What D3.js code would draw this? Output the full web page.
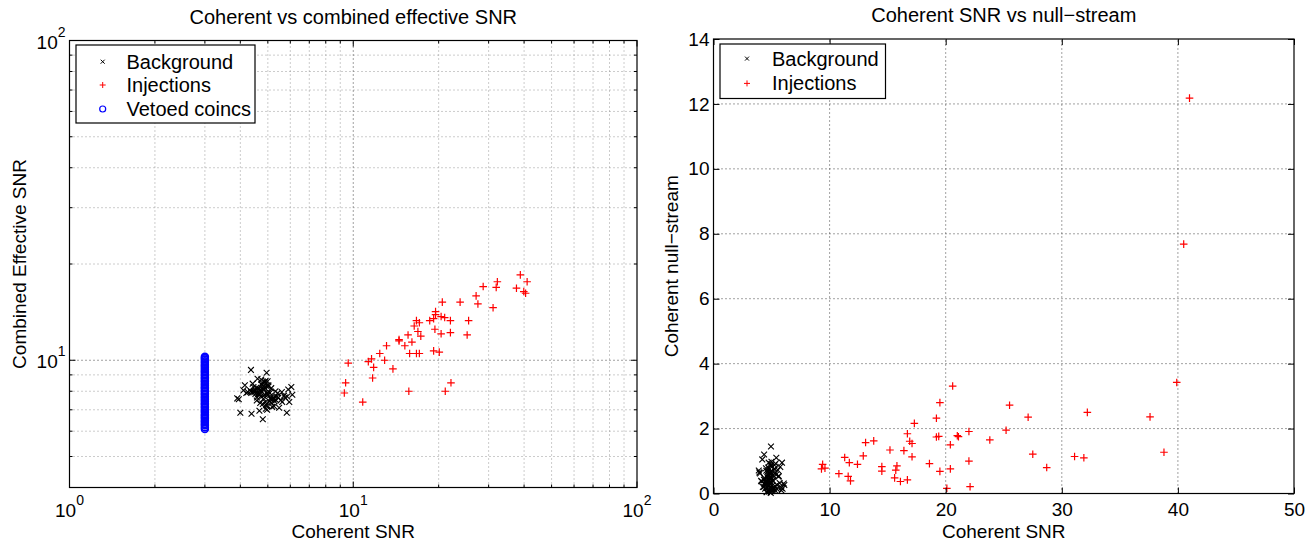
<!DOCTYPE html>
<meta charset="utf-8">
<style>
  body { margin: 0; background: #fff; }
  svg { font-family: "Liberation Sans", Arial, Helvetica, sans-serif; background: #fff; }
  .grid-major line { stroke: #444; stroke-width: 1; stroke-dasharray: 1,3; }
  .grid-minor line { stroke: #999; stroke-width: 1; stroke-dasharray: 1,3; }
  .ticks line { stroke: #000; stroke-width: 1; }
  .frame { fill: none; stroke: #000; stroke-width: 1.2; }
  .tick-label { font-size: 19px; fill: #000; }
  .axis-label { font-size: 19px; fill: #000; }
  .title { font-size: 20px; fill: #000; }
  .legend text { font-size: 20px; fill: #000; }
</style>
<body>
  <svg width="1316" height="541"></svg>
</body>

<script src="https://cdn.jsdelivr.net/npm/d3@7"></script>
<script>
  // ---- data ----
  // injections: coherent SNR, combined effective SNR, coherent null-stream
  var injCoh  = [41.0, 40.5, 39.9, 38.8, 37.6, 32.2, 31.9, 31.1, 28.7, 27.5,
                 27.1, 25.5, 25.2, 23.8, 22.0, 22.0, 22.1, 21.1, 21.0, 20.6,
                 20.4, 20.4, 20.1, 19.5, 19.5, 19.4, 19.2, 19.2, 18.6, 17.3,
                 17.1, 17.1, 16.9, 16.7, 16.7, 16.4, 16.1, 15.8, 15.7, 15.6,
                 15.2, 14.5, 14.5, 13.8, 13.1, 12.9, 12.4, 11.7, 11.8, 11.6,
                 11.3, 10.8, 9.6, 9.4, 9.3];
  var injEff  = [17.6, 16.2, 16.4, 18.5, 16.8, 17.6, 16.9, 14.6, 17.0, 15.0,
                 15.9, 13.3, 12.0, 15.2, 13.3, 12.2, 8.5, 8.0, 13.6, 15.2,
                 12.1, 13.7, 10.6, 14.2, 13.9, 12.5, 10.7, 13.5, 13.3, 11.9,
                 13.1, 10.5, 12.3, 13.3, 10.5, 12.8, 11.4, 10.5, 8.0, 12.0,
                 11.1, 11.6, 11.5, 9.4, 11.1, 10.0, 10.5, 8.8, 9.5, 10.1,
                 9.9, 7.4, 9.8, 8.5, 7.9];
  var injNull = [12.18, 7.68, 3.42, 1.27, 2.36, 2.50, 1.10, 1.14, 0.80, 1.21,
                 2.35, 2.72, 1.95, 1.65, 1.91, 1.00, 0.21, 1.75, 1.78, 3.31,
                 1.50, 0.76, 0.16, 2.80, 0.68, 1.76, 2.32, 1.74, 0.92, 2.16,
                 1.54, 1.13, 1.61, 1.84, 0.42, 1.32, 0.37, 0.85, 0.72, 0.48,
                 1.34, 0.83, 0.69, 1.62, 1.57, 1.16, 0.90, 0.95, 0.39, 0.53,
                 1.11, 0.61, 0.78, 0.90, 0.76];

  // background: coherent SNR, combined effective SNR, coherent null-stream
  var bgCoh  = [4.62, 4.85, 5.10, 4.40, 4.95, 5.30, 4.70, 5.05, 4.55, 4.88,
                5.20, 4.35, 4.75, 5.45, 4.98, 4.60, 5.15, 4.82, 4.45, 5.60,
                4.90, 5.02, 4.68, 5.25, 4.78, 4.50, 5.38, 4.93, 4.72, 5.08,
                4.25, 5.55, 4.86, 4.64, 5.18, 4.99, 4.58, 5.32, 4.80, 4.42,
                5.70, 4.96, 4.66, 5.12, 4.74, 4.52, 5.28, 4.84, 4.92, 5.05,
                3.95, 4.10, 5.85, 6.05, 4.36, 5.62, 4.20, 5.48, 4.15, 5.75,
                4.88, 4.70, 5.00, 4.60, 5.22, 4.81, 4.48, 5.35, 4.76, 4.97,
                4.95, 4.36, 4.00, 4.38, 5.83, 4.80, 5.90, 6.10, 3.90, 5.95,
                4.73, 5.14, 4.57, 4.91, 5.41, 4.67, 5.03, 4.83, 4.46, 5.26];
  var bgEff  = [7.85, 8.10, 7.60, 7.95, 8.30, 7.70, 8.05, 7.45, 8.20, 7.80,
                7.55, 8.00, 8.40, 7.65, 7.90, 8.15, 7.35, 7.75, 8.25, 7.95,
                7.40, 8.35, 7.85, 7.60, 8.50, 8.05, 7.70, 7.25, 8.10, 7.90,
                7.95, 7.50, 8.20, 7.80, 7.15, 8.60, 7.65, 8.00, 7.30, 8.45,
                7.75, 7.20, 8.15, 7.55, 8.70, 7.85, 7.45, 8.30, 7.05, 7.95,
                7.55, 8.05, 7.70, 8.25, 8.00, 7.40, 7.90, 7.10, 8.35, 7.65,
                8.55, 7.35, 7.80, 8.75, 7.60, 8.10, 7.95, 7.50, 8.40, 7.00,
                9.14, 9.33, 6.85, 6.80, 6.85, 6.54, 8.10, 7.80, 7.60, 7.40,
                7.72, 8.18, 7.48, 8.62, 7.88, 6.95, 8.28, 7.58, 8.02, 7.18];
  var bgNull = [0.35, 0.62, 0.12, 0.48, 0.85, 0.22, 0.55, 0.08, 0.70, 0.30,
                0.18, 0.42, 0.95, 0.27, 0.60, 0.05, 0.38, 0.75, 0.15, 0.52,
                0.66, 0.10, 0.45, 0.88, 0.25, 0.33, 0.58, 0.02, 0.80, 0.40,
                0.20, 0.72, 0.36, 0.50, 0.14, 0.98, 0.28, 0.64, 0.06, 0.44,
                0.32, 0.90, 0.17, 0.56, 0.26, 0.78, 0.11, 0.47, 0.68, 0.24,
                0.65, 0.39, 0.09, 0.31, 0.21, 0.54, 1.05, 0.13, 0.37, 0.82,
                0.29, 0.60, 0.46, 0.19, 0.74, 0.07, 0.34, 0.92, 0.23, 0.50,
                1.45, 1.20, 0.62, 0.30, 0.18, 0.41, 0.95, 0.26, 0.71, 0.15,
                0.43, 0.57, 0.04, 0.36, 1.10, 0.67, 0.16, 0.49, 0.27, 0.76];

  // vetoed coincs all sit at coherent SNR = 3
  var vetoCoh = 3;
  var vetoEff = [6.10, 6.17, 6.26, 6.32, 6.41, 6.47, 6.56, 6.63, 6.71, 6.77,
                 6.86, 6.94, 7.01, 7.11, 7.18, 7.28, 7.34, 7.45, 7.52, 7.62,
                 7.69, 7.80, 7.87, 7.98, 8.05, 8.17, 8.24, 8.36, 8.44, 8.56,
                 8.63, 8.75, 8.84, 8.96, 9.04, 9.17, 9.25, 9.38, 9.47, 9.60,
                 9.69, 9.83, 9.92, 10.06, 10.16, 10.25];

  var titles = ["Coherent vs combined effective SNR", "Coherent SNR vs null\u2212stream"];
  var xLabels = ["Coherent SNR", "Coherent SNR"];
  var yLabels = ["Combined Effective SNR", "Coherent null\u2212stream"];
  var logMajor = [1, 10, 100];
  var logMinorX = [2, 3, 4, 5, 6, 7, 8, 9, 20, 30, 40, 50, 60, 70, 80, 90];
  var logMinorY = [5, 6, 7, 8, 9, 20, 30, 40, 50, 60, 70, 80, 90];
  var linTicksX = [0, 10, 20, 30, 40, 50];
  var linTicksY = [0, 2, 4, 6, 8, 10, 12, 14];

  var svg = d3.select("svg");

  function xMark(s) { return "M" + (-s) + "," + (-s) + "L" + s + "," + s + "M" + (-s) + "," + s + "L" + s + "," + (-s); }
  function plusMark(s) { return "M" + (-s) + ",0L" + s + ",0M0," + (-s) + "L0," + s; }

  // ================= left panel (log-log) =================
  var xL = d3.scaleLog().domain([1, 100]).range([69.5, 637]);
  var yL = d3.scaleLog().domain([4, 100]).range([487.5, 40.5]);
  var left = svg.append("g");

  left.append("g").attr("class", "grid-minor").selectAll("line")
    .data(logMinorX).enter().append("line")
    .attr("x1", d => xL(d)).attr("x2", d => xL(d))
    .attr("y1", yL.range()[0]).attr("y2", yL.range()[1]);
  left.append("g").attr("class", "grid-minor").selectAll("line")
    .data(logMinorY).enter().append("line")
    .attr("y1", d => yL(d)).attr("y2", d => yL(d))
    .attr("x1", xL.range()[0]).attr("x2", xL.range()[1]);
  left.append("g").attr("class", "grid-major").selectAll("line")
    .data([10]).enter().append("line")
    .attr("x1", d => xL(d)).attr("x2", d => xL(d))
    .attr("y1", yL.range()[0]).attr("y2", yL.range()[1]);
  left.append("g").attr("class", "grid-major").selectAll("line")
    .data([10]).enter().append("line")
    .attr("y1", d => yL(d)).attr("y2", d => yL(d))
    .attr("x1", xL.range()[0]).attr("x2", xL.range()[1]);

  // ticks on all four sides, pointing in
  var lt = left.append("g").attr("class", "ticks");
  function logTicksX(vals, len) {
    vals.forEach(function(v) {
      lt.append("line").attr("x1", xL(v)).attr("x2", xL(v)).attr("y1", yL.range()[0]).attr("y2", yL.range()[0] - len);
      lt.append("line").attr("x1", xL(v)).attr("x2", xL(v)).attr("y1", yL.range()[1]).attr("y2", yL.range()[1] + len);
    });
  }
  function logTicksY(vals, len) {
    vals.forEach(function(v) {
      lt.append("line").attr("y1", yL(v)).attr("y2", yL(v)).attr("x1", xL.range()[0]).attr("x2", xL.range()[0] + len);
      lt.append("line").attr("y1", yL(v)).attr("y2", yL(v)).attr("x1", xL.range()[1]).attr("x2", xL.range()[1] - len);
    });
  }
  logTicksX(logMajor, 6); logTicksX(logMinorX, 3);
  logTicksY([10, 100], 6); logTicksY(logMinorY, 3);

  // data
  left.append("g").selectAll("path").data(bgCoh).enter().append("path")
    .attr("d", xMark(2.9)).attr("stroke", "#000").attr("stroke-width", 1.1).attr("fill", "none")
    .attr("transform", (d, i) => "translate(" + xL(d) + "," + yL(bgEff[i]) + ")");
  left.append("g").selectAll("path").data(injCoh).enter().append("path")
    .attr("d", plusMark(3.8)).attr("stroke", "#ff0000").attr("stroke-width", 1.2).attr("fill", "none")
    .attr("transform", (d, i) => "translate(" + xL(d) + "," + yL(injEff[i]) + ")");
  left.append("g").selectAll("circle").data(vetoEff).enter().append("circle")
    .attr("cx", xL(vetoCoh)).attr("cy", d => yL(d)).attr("r", 3.4)
    .attr("fill", "none").attr("stroke", "#0000ff").attr("stroke-width", 1.7);

  left.append("rect").attr("class", "frame")
    .attr("x", xL.range()[0]).attr("y", yL.range()[1])
    .attr("width", xL.range()[1] - xL.range()[0]).attr("height", yL.range()[0] - yL.range()[1]);

  // log tick labels
  logMajor.forEach(function(v, i) {
    var t = left.append("text").attr("class", "tick-label")
      .attr("x", xL(v)).attr("y", 516.5).attr("text-anchor", "middle");
    t.append("tspan").text("10");
    t.append("tspan").attr("dy", -12).attr("font-size", 14).text(i);
  });
  [10, 100].forEach(function(v, i) {
    var t = left.append("text").attr("class", "tick-label")
      .attr("x", xL.range()[0] - 4).attr("y", yL(v) + 8).attr("text-anchor", "end");
    t.append("tspan").text("10");
    t.append("tspan").attr("dy", -12).attr("font-size", 14).text(i + 1);
  });

  left.append("text").attr("class", "title").attr("text-anchor", "middle")
    .attr("x", (xL.range()[0] + xL.range()[1]) / 2).attr("y", 24).text(titles[0]);
  left.append("text").attr("class", "axis-label").attr("text-anchor", "middle")
    .attr("x", (xL.range()[0] + xL.range()[1]) / 2).attr("y", 538).text(xLabels[0]);
  left.append("text").attr("class", "axis-label").attr("text-anchor", "middle")
    .attr("transform", "translate(26," + (yL.range()[0] + yL.range()[1]) / 2 + ") rotate(-90)")
    .text(yLabels[0]);

  // legend
  var lg = left.append("g").attr("class", "legend");
  lg.append("rect").attr("x", 76).attr("y", 45).attr("width", 179).attr("height", 78)
    .attr("fill", "#fff").attr("stroke", "#000").attr("stroke-width", 1.2);
  var rowsL = [61.7, 85, 109];
  lg.append("path").attr("d", xMark(2)).attr("stroke", "#000").attr("fill", "none")
    .attr("transform", "translate(102.7," + rowsL[0] + ")");
  lg.append("path").attr("d", plusMark(3)).attr("stroke", "#ff0000").attr("fill", "none")
    .attr("transform", "translate(102.7," + rowsL[1] + ")");
  lg.append("circle").attr("cx", 102.7).attr("cy", rowsL[2]).attr("r", 3)
    .attr("fill", "none").attr("stroke", "#0000ff").attr("stroke-width", 1.2);
  ["Background", "Injections", "Vetoed coincs"].forEach(function(s, i) {
    lg.append("text").attr("x", 126.5).attr("y", rowsL[i] + 7).text(s);
  });

  // ================= right panel (linear) =================
  var xR = d3.scaleLinear().domain([0, 50]).range([713.5, 1294]);
  var yR = d3.scaleLinear().domain([0, 14]).range([493.5, 39]);
  var right = svg.append("g");

  right.append("g").attr("class", "grid-major").selectAll("line")
    .data(linTicksX.slice(1, -1)).enter().append("line")
    .attr("x1", d => xR(d)).attr("x2", d => xR(d))
    .attr("y1", yR.range()[0]).attr("y2", yR.range()[1]);
  right.append("g").attr("class", "grid-major").selectAll("line")
    .data(linTicksY.slice(1, -1)).enter().append("line")
    .attr("y1", d => yR(d)).attr("y2", d => yR(d))
    .attr("x1", xR.range()[0]).attr("x2", xR.range()[1]);

  right.append("g").selectAll("path").data(bgCoh).enter().append("path")
    .attr("d", xMark(2.9)).attr("stroke", "#000").attr("stroke-width", 1.1).attr("fill", "none")
    .attr("transform", (d, i) => "translate(" + xR(d) + "," + yR(bgNull[i]) + ")");
  right.append("g").selectAll("path").data(injCoh).enter().append("path")
    .attr("d", plusMark(3.8)).attr("stroke", "#ff0000").attr("stroke-width", 1.2).attr("fill", "none")
    .attr("transform", (d, i) => "translate(" + xR(d) + "," + yR(injNull[i]) + ")");

  var ax = right.append("g").attr("class", "ticks");
  ax.append("g").attr("transform", "translate(0," + yR.range()[0] + ")")
    .call(d3.axisBottom(xR).tickValues(linTicksX).tickSize(-6).tickSizeOuter(0).tickPadding(9));
  ax.append("g").attr("transform", "translate(0," + yR.range()[1] + ")")
    .call(d3.axisTop(xR).tickValues(linTicksX).tickSize(-6).tickSizeOuter(0).tickFormat(""));
  ax.append("g").attr("transform", "translate(" + xR.range()[0] + ",0)")
    .call(d3.axisLeft(yR).tickValues(linTicksY).tickSize(-6).tickSizeOuter(0).tickPadding(4));
  ax.append("g").attr("transform", "translate(" + xR.range()[1] + ",0)")
    .call(d3.axisRight(yR).tickValues(linTicksY).tickSize(-6).tickSizeOuter(0).tickFormat(""));
  ax.selectAll("path.domain").remove();
  ax.selectAll("text").attr("class", "tick-label").attr("font-family", null).attr("font-size", null);

  right.append("rect").attr("class", "frame")
    .attr("x", xR.range()[0]).attr("y", yR.range()[1])
    .attr("width", xR.range()[1] - xR.range()[0]).attr("height", yR.range()[0] - yR.range()[1]);

  right.append("text").attr("class", "title").attr("text-anchor", "middle")
    .attr("x", (xR.range()[0] + xR.range()[1]) / 2).attr("y", 22).text(titles[1]);
  right.append("text").attr("class", "axis-label").attr("text-anchor", "middle")
    .attr("x", (xR.range()[0] + xR.range()[1]) / 2).attr("y", 538).text(xLabels[1]);
  right.append("text").attr("class", "axis-label").attr("text-anchor", "middle")
    .attr("transform", "translate(678," + (yR.range()[0] + yR.range()[1]) / 2 + ") rotate(-90)")
    .text(yLabels[1]);

  var rg = right.append("g").attr("class", "legend");
  rg.append("rect").attr("x", 720).attr("y", 44).attr("width", 165.5).attr("height", 54.5)
    .attr("fill", "#fff").attr("stroke", "#000").attr("stroke-width", 1.2);
  var rowsR = [58.6, 83.4];
  rg.append("path").attr("d", xMark(2)).attr("stroke", "#000").attr("fill", "none")
    .attr("transform", "translate(747," + rowsR[0] + ")");
  rg.append("path").attr("d", plusMark(3)).attr("stroke", "#ff0000").attr("fill", "none")
    .attr("transform", "translate(747," + rowsR[1] + ")");
  ["Background", "Injections"].forEach(function(s, i) {
    rg.append("text").attr("x", 772).attr("y", rowsR[i] + 7).text(s);
  });
</script>
